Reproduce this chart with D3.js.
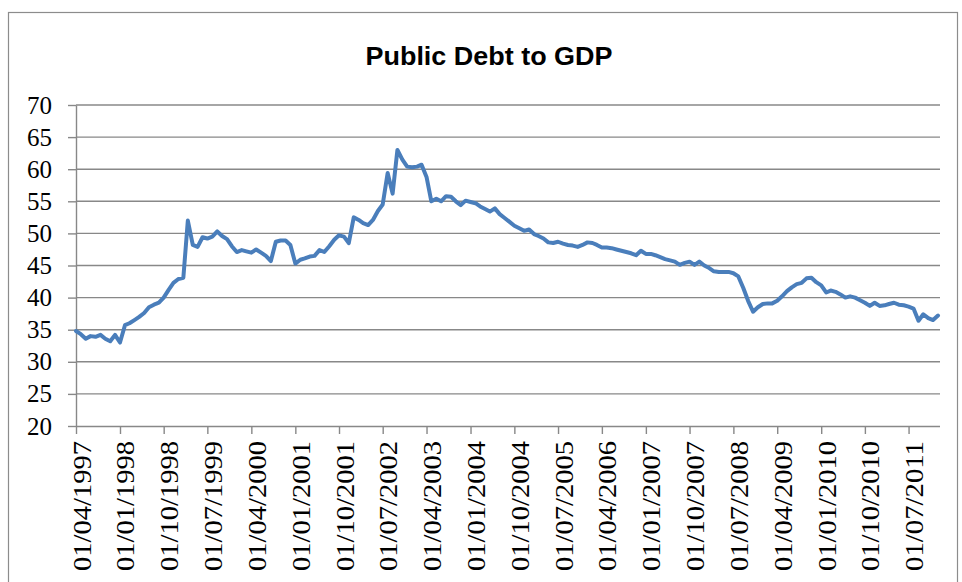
<!DOCTYPE html>
<meta charset="utf-8">
<script src="https://d3js.org/d3.v7.min.js"></script>
<style>
  body { margin: 0; background: #fff; }
</style>
<div id="my_dataviz"></div>
<script>

// data: monthly public debt to GDP, starting April 1997
var startMonth = "01/04/1997";
var debtValues = [
  34.8, 34.3, 33.6, 34.0, 33.9, 34.2, 33.6, 33.2, 34.2, 33.0,
  35.7, 36.0, 36.5, 37.0, 37.6, 38.5, 38.9, 39.2, 40.0, 41.2,
  42.3, 42.9, 43.1, 52.0, 48.2, 47.9, 49.4, 49.2, 49.5, 50.3,
  49.6, 49.1, 48.0, 47.1, 47.4, 47.2, 47.0, 47.5, 47.0, 46.5,
  45.7, 48.7, 48.9, 48.9, 48.2, 45.3, 45.9, 46.1, 46.4, 46.5,
  47.4, 47.1, 48.0, 49.0, 49.7, 49.5, 48.5, 52.5, 52.1, 51.6,
  51.3, 52.1, 53.5, 54.5, 59.4, 56.2, 63.0, 61.5, 60.4, 60.3,
  60.4, 60.7, 58.8, 55.0, 55.4, 55.0, 55.8, 55.7, 55.0, 54.4,
  55.1, 54.9, 54.7, 54.2, 53.8, 53.4, 53.9, 53.0, 52.4, 51.8,
  51.2, 50.8, 50.4, 50.6, 49.9, 49.6, 49.2, 48.6, 48.5, 48.7,
  48.4, 48.2, 48.1, 47.9, 48.2, 48.6, 48.5, 48.2, 47.8, 47.8,
  47.7, 47.5, 47.3, 47.1, 46.9, 46.6, 47.3, 46.8, 46.8, 46.6,
  46.3, 46.0, 45.8, 45.6, 45.1, 45.4, 45.6, 45.1, 45.6, 45.0,
  44.6, 44.1, 44.0, 44.0, 44.0, 43.8, 43.3, 41.5, 39.5, 37.8,
  38.5, 39.0, 39.1, 39.1, 39.5, 40.2, 41.0, 41.6, 42.1, 42.3,
  43.0, 43.1, 42.4, 41.9, 40.8, 41.1, 40.9, 40.5, 40.0, 40.2,
  40.0, 39.6, 39.2, 38.7, 39.2, 38.7, 38.8, 39.0, 39.2, 38.9,
  38.8, 38.6, 38.3, 36.4, 37.4, 36.8, 36.5, 37.2
];
var yTicks = [20, 25, 30, 35, 40, 45, 50, 55, 60, 65, 70];
var xTickLabels = [
  "01/04/1997", "01/01/1998", "01/10/1998", "01/07/1999", "01/04/2000",
  "01/01/2001", "01/10/2001", "01/07/2002", "01/04/2003", "01/01/2004",
  "01/10/2004", "01/07/2005", "01/04/2006", "01/01/2007", "01/10/2007",
  "01/07/2008", "01/04/2009", "01/01/2010", "01/10/2010", "01/07/2011"
];
var chartTitle = "Public Debt to GDP";

var W = 962, H = 582;
var plotLeft = 76, plotRight = 938, plotTop = 105, plotBottom = 426;

var parse = d3.timeParse("%d/%m/%Y");
var start = parse(startMonth);
var data = debtValues.map(function(v, i) {
  return { date: d3.timeMonth.offset(start, i), value: v };
});

var svg = d3.select("#my_dataviz")
  .append("svg")
    .attr("width", W)
    .attr("height", H);

// frame
svg.append("rect")
  .attr("x", 8.5).attr("y", 12.5)
  .attr("width", 949).attr("height", 600)
  .attr("fill", "#fff")
  .attr("stroke", "#8c8c8c")
  .attr("stroke-width", 1.2);

// title
svg.append("text")
  .attr("x", 489).attr("y", 65)
  .attr("text-anchor", "middle")
  .attr("font-family", "'Liberation Sans Narrow', 'Liberation Sans', Arial, sans-serif")
  .attr("font-weight", "bold")
  .attr("font-size", 26)
  .attr("textLength", 247)
  .attr("lengthAdjust", "spacingAndGlyphs")
  .attr("fill", "#000")
  .text(chartTitle);

var x = d3.scaleTime()
  .domain([start, data[data.length - 1].date])
  .range([plotLeft, plotRight]);

var y = d3.scaleLinear()
  .domain([20, 70])
  .range([plotBottom, plotTop]);

// gridlines
svg.append("g")
  .selectAll("line")
  .data(yTicks.filter(function(d) { return d > 20; }))
  .enter()
  .append("line")
    .attr("x1", plotLeft).attr("x2", 940)
    .attr("y1", function(d) { return y(d); })
    .attr("y2", function(d) { return y(d); })
    .attr("stroke", "#888")
    .attr("stroke-width", 1.4);

// Y axis
var yAxis = svg.append("g")
  .attr("transform", "translate(" + plotLeft + ",0)")
  .call(d3.axisLeft(y).tickValues(yTicks).tickSize(8).tickSizeOuter(0).tickPadding(16));
yAxis.select(".domain").attr("stroke", "#888").attr("stroke-width", 1.4);
yAxis.selectAll(".tick line").attr("stroke", "#888").attr("stroke-width", 1.4);
yAxis.selectAll(".tick text")
  .attr("font-family", "'Liberation Serif', 'Times New Roman', serif")
  .attr("font-size", 25)
  .attr("fill", "#000")
  .attr("dy", "0.32em");

// X axis
var xAxis = svg.append("g")
  .attr("transform", "translate(0," + plotBottom + ")")
  .call(d3.axisBottom(x)
    .tickValues(xTickLabels.map(parse))
    .tickFormat(function(d, i) { return xTickLabels[i]; })
    .tickSize(8).tickSizeOuter(0));
xAxis.select(".domain")
  .attr("d", "M" + plotLeft + ",0.5H940")
  .attr("stroke", "#888").attr("stroke-width", 1.4);
xAxis.selectAll(".tick line").attr("stroke", "#888").attr("stroke-width", 1.4);
xAxis.selectAll(".tick text")
  .attr("font-family", "'Liberation Serif', 'Times New Roman', serif")
  .attr("font-size", 25)
  .attr("fill", "#000")
  .attr("text-anchor", "end")
  .attr("textLength", 130)
  .attr("lengthAdjust", "spacingAndGlyphs")
  .attr("dy", null)
  .attr("y", 0)
  .attr("transform", "translate(14,15) rotate(-90)");

// line
svg.append("path")
  .datum(data)
  .attr("fill", "none")
  .attr("stroke", "#4a7ebb")
  .attr("stroke-width", 4)
  .attr("stroke-linejoin", "round")
  .attr("stroke-linecap", "round")
  .attr("d", d3.line()
    .x(function(d) { return x(d.date); })
    .y(function(d) { return y(d.value); }));

</script>
